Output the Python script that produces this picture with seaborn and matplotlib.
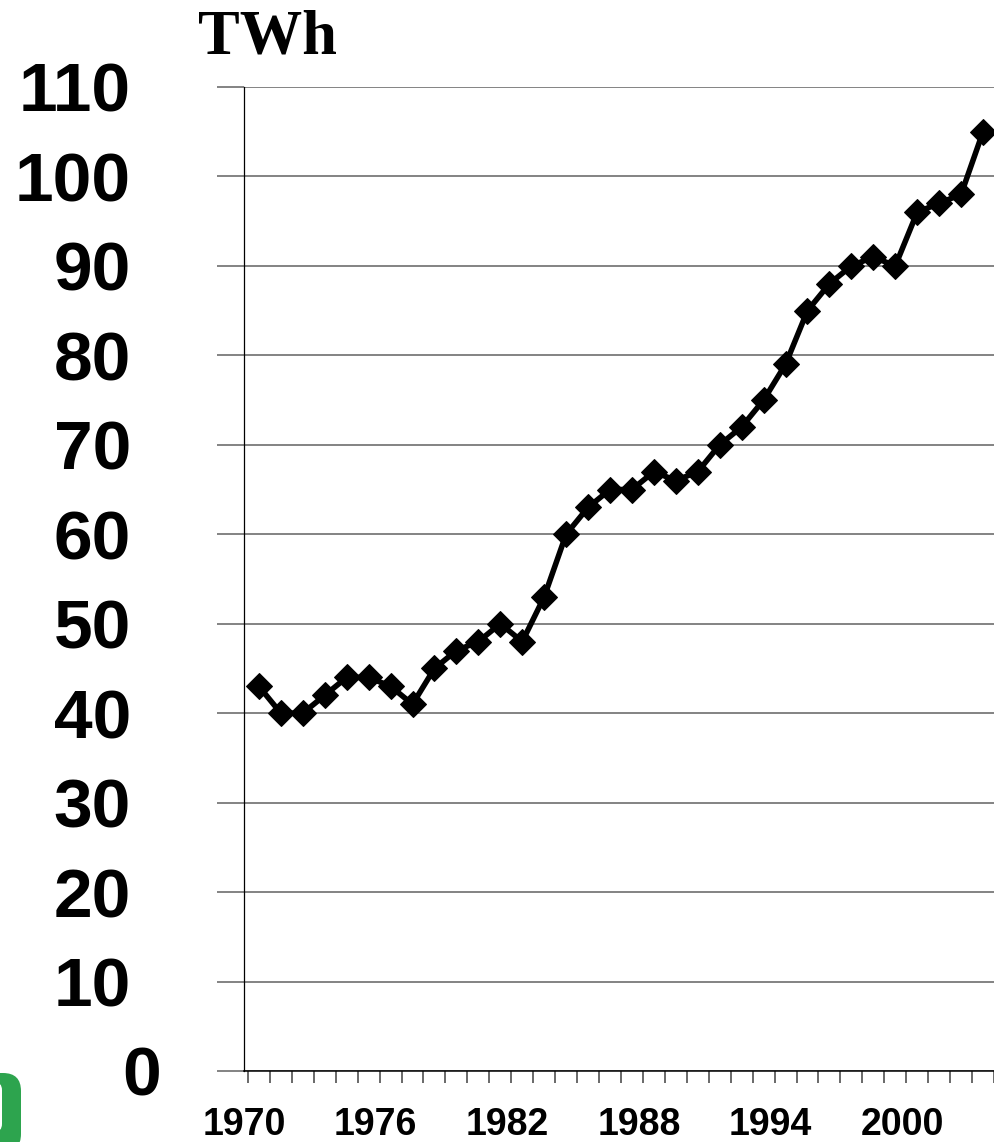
import matplotlib
matplotlib.use('Agg')
import matplotlib.pyplot as plt
import matplotlib.transforms as mtransforms
from matplotlib.patches import FancyBboxPatch
import seaborn as sns
import pandas as pd

# data
years = list(range(1970, 2004))
twh = [43, 40, 40, 42, 44, 44, 43, 41, 45, 47, 48, 50, 48, 53, 60, 63, 65, 65,
       67, 66, 67, 70, 72, 75, 79, 85, 88, 90, 91, 90, 96, 97, 98, 105]
ytick_vals = [0, 10, 20, 30, 40, 50, 60, 70, 80, 90, 100, 110]
xtick_years = [1970, 1976, 1982, 1988, 1994, 2000]

df = pd.DataFrame({'year': years, 'twh': twh})

sns.set_style('white')
plt.rcParams['font.family'] = ['Liberation Sans', 'DejaVu Sans']
plt.rcParams['text.color'] = 'black'

fig = plt.figure(figsize=(9.94, 11.42), dpi=100)
ax = fig.add_axes([244 / 994, 1 - 1071 / 1142, 1 - 244 / 994, (1071 - 87) / 1142])

sns.lineplot(data=df, x='year', y='twh', ax=ax, color='black', linewidth=4,
             marker='D', markersize=13, markeredgecolor='black',
             markerfacecolor='black', zorder=5)

ax.set_ylim(0, 110)
ax.set_xlim(1969.5, 1969.5 + 750 / 22.2)

# y axis: gray gridlines that run out past the spine
ax.set_yticks(ytick_vals)
ax.set_yticklabels([str(v) for v in ytick_vals], fontsize=50, fontweight='bold')
ax.yaxis.grid(True, color='#7a7a7a', linewidth=1.3)
ax.tick_params(axis='y', length=19.4, width=1.3, color='#7a7a7a', pad=62, left=True,
               labelcolor='black')

# x axis: minor ticks at category borders, labels slightly left of the points
ax.set_xticks([y - 0.68 for y in xtick_years])
ax.set_xticklabels([str(y) for y in xtick_years], fontsize=27, fontweight='bold')
ax.set_xticks([y + 0.5 for y in range(1969, 2004)], minor=True)
ax.tick_params(axis='x', which='major', length=0, pad=26, labelcolor='black')
ax.tick_params(axis='x', which='minor', length=8.6, width=1.1, color='#404040',
               bottom=True)
ax.xaxis.grid(False)

# the "0" label sits further right in the reference
lbl0 = ax.get_yticklabels()[0]
lbl0.set_transform(lbl0.get_transform() +
                   mtransforms.ScaledTranslation(30 / 100, 0, fig.dpi_scale_trans))

ax.set_xlabel('')
ax.set_ylabel('')
for side in ['top', 'right']:
    ax.spines[side].set_visible(False)
ax.spines['left'].set_color('black')
ax.spines['left'].set_linewidth(0.9)
ax.spines['bottom'].set_color('black')
ax.spines['bottom'].set_linewidth(1.1)

fig.text(198 / 994, 1 - 53 / 1142, 'TWh', ha='left', va='baseline', color='black',
         fontsize=45, fontweight='bold', family=['Liberation Serif', 'DejaVu Serif'])

# clipped green badge in the bottom-left corner
ident = mtransforms.IdentityTransform()
fig.patches.append(FancyBboxPatch((-30, -10), 51, 79, boxstyle='round,pad=0,rounding_size=18',
                                  transform=ident, facecolor='#2da44e', edgecolor='none'))
fig.patches.append(FancyBboxPatch((-30, 10), 32, 50, boxstyle='round,pad=0,rounding_size=8',
                                  transform=ident, facecolor='white', edgecolor='none'))

fig.savefig('out.png', dpi=100)
